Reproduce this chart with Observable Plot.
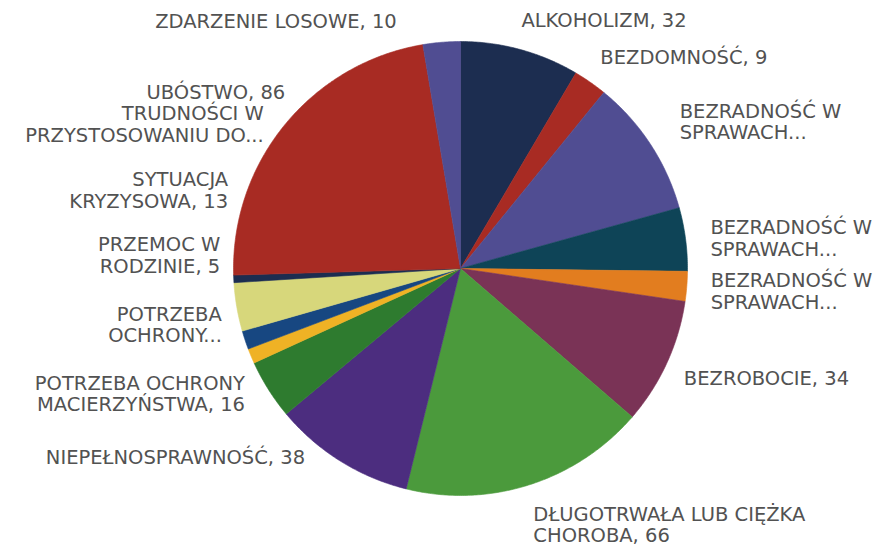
<!DOCTYPE html>
<html><head><meta charset="utf-8">
<script src="https://cdn.jsdelivr.net/npm/d3@7"></script>
<script src="https://cdn.jsdelivr.net/npm/@observablehq/plot@0.6"></script>
<style>body{margin:0;background:#fff}</style>
</head><body><div id="chart"></div>
<script>
// Categories in clockwise order from 12 o'clock
const categories = [
  "ALKOHOLIZM",
  "BEZDOMNOŚĆ",
  "BEZRADNOŚĆ W SPRAWACH... (1)",
  "BEZRADNOŚĆ W SPRAWACH... (2)",
  "BEZRADNOŚĆ W SPRAWACH... (3)",
  "BEZROBOCIE",
  "DŁUGOTRWAŁA LUB CIĘŻKA CHOROBA",
  "NIEPEŁNOSPRAWNOŚĆ",
  "POTRZEBA OCHRONY MACIERZYŃSTWA",
  "POTRZEBA OCHRONY...",
  "PRZEMOC W RODZINIE",
  "SYTUACJA KRYZYSOWA",
  "TRUDNOŚCI W PRZYSTOSOWANIU DO...",
  "UBÓSTWO",
  "ZDARZENIE LOSOWE"
];
const values = [32, 9, 37, 17, 8, 34, 66, 38, 16, 4, 5, 13, 2, 86, 10];
const labelTexts = [
  "ALKOHOLIZM, 32",
  "BEZDOMNOŚĆ, 9",
  "BEZRADNOŚĆ W\nSPRAWACH...",
  "BEZRADNOŚĆ W\nSPRAWACH...",
  "BEZRADNOŚĆ W\nSPRAWACH...",
  "BEZROBOCIE, 34",
  "DŁUGOTRWAŁA LUB CIĘŻKA\nCHOROBA, 66",
  "NIEPEŁNOSPRAWNOŚĆ, 38",
  "POTRZEBA OCHRONY\nMACIERZYŃSTWA, 16",
  "POTRZEBA\nOCHRONY...",
  "PRZEMOC W\nRODZINIE, 5",
  "SYTUACJA\nKRYZYSOWA, 13",
  "TRUDNOŚCI W\nPRZYSTOSOWANIU DO...",
  "UBÓSTWO, 86",
  "ZDARZENIE LOSOWE, 10"
];
const colors = [
  "#1c2d50", "#a82b23", "#504d92", "#0e4457", "#e27d1f",
  "#7a3356", "#4b9a3c", "#4c2d7f", "#2e7b2f", "#efb225",
  "#174781", "#d7d77b", "#1c2d50", "#a82b23", "#504d92"
];
// label placement nudges (pixels) relative to a point just outside each slice's mid-angle
const labelNudgeX = [-5, -3, 10, 2, 1, -4, -3, -23, -4, -8, -3, 14, 53, 18, -43];
const labelNudgeY = [-7, -6, -10, 2, 3, 6, 18, -23, -8, -40, -92, -121, -156, -18, 2];

const R = 227;               // pie radius in pixels
const cx = 460, cy = 268;    // pie centre in pixels
const labelR = 250 / R;      // label base radius (data units)

const total = d3.sum(values);
let cum = 0;
const slices = values.map((v, i) => {
  const a0 = cum / total * 2 * Math.PI;
  cum += v;
  const a1 = cum / total * 2 * Math.PI;
  return {key: categories[i], value: v, a0, a1, i};
});

// polygon vertices of each slice (centre + arc), derived from the values
const pts = [];
for (const s of slices) {
  pts.push({key: s.key, x: 0, y: 0});
  const n = Math.max(2, Math.ceil((s.a1 - s.a0) / (Math.PI / 360)));
  for (let k = 0; k <= n; k++) {
    const a = s.a0 + (s.a1 - s.a0) * k / n;
    pts.push({key: s.key, x: Math.sin(a), y: Math.cos(a)});
  }
  pts.push({key: s.key, x: 0, y: 0});
}

const labels = slices.map(s => {
  const m = (s.a0 + s.a1) / 2;
  return {
    text: labelTexts[s.i],
    right: m < Math.PI,
    x: labelR * Math.sin(m) + labelNudgeX[s.i] / R,
    y: labelR * Math.cos(m) - labelNudgeY[s.i] / R
  };
});

const textStyle = {
  fontSize: 19.5,
  fontFamily: "DejaVu Sans",
  fill: "#525252",
  lineAnchor: "middle",
  lineHeight: 1.1
};

const chart = Plot.plot({
  width: 885,
  height: 548,
  margin: 0,
  x: {domain: [-1, 1], range: [cx - R, cx + R], axis: null},
  y: {domain: [-1, 1], range: [cy + R, cy - R], axis: null},
  color: {type: "ordinal", domain: categories, range: colors},
  style: {background: "#fff", overflow: "visible"},
  marks: [
    Plot.line(pts, {x: "x", y: "y", z: "key", fill: "key", stroke: "key", strokeWidth: 0.6, curve: "linear"}),
    Plot.text(labels.filter(d => d.right), {x: "x", y: "y", text: "text", textAnchor: "start", ...textStyle}),
    Plot.text(labels.filter(d => !d.right), {x: "x", y: "y", text: "text", textAnchor: "end", ...textStyle})
  ]
});
document.getElementById("chart").appendChild(chart);
</script>
</body></html>
